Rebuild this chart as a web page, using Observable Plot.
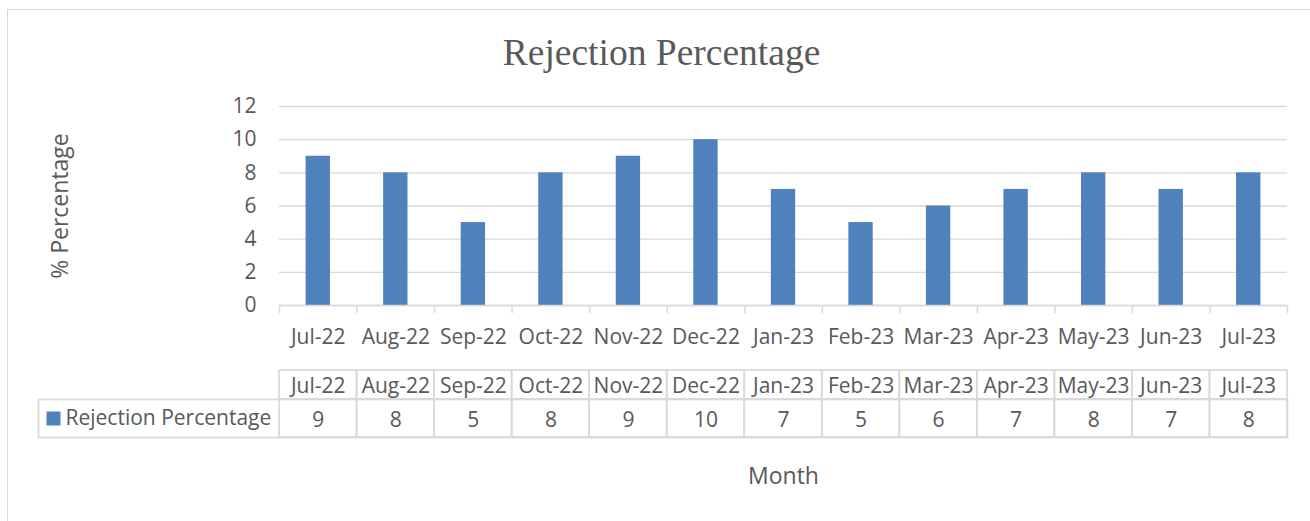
<!DOCTYPE html>
<html>
<head>
<meta charset="utf-8">
<script src="https://cdn.jsdelivr.net/npm/d3@7"></script>
<script src="https://cdn.jsdelivr.net/npm/@observablehq/plot@0.6"></script>
<style>
  html, body { margin: 0; padding: 0; background: #fff; overflow: hidden; }
  #wrap { position: relative; width: 1310px; height: 521px; overflow: hidden; background: #fff; }
  #border { position: absolute; left: 7px; top: 9px; width: 1400px; height: 600px; border: 1.5px solid #d9d9d9; box-sizing: border-box; }
  #title { position: absolute; left: 0; top: 33.6px; width: 1323px; text-align: center;
           font-family: "Liberation Serif", serif; font-size: 37.5px; line-height: 37.5px; color: #595959; white-space: nowrap; }
  #wrap svg { position: absolute; left: 0; top: 0; }
</style>
</head>
<body>
<div id="wrap"><div id="border"></div><div id="title"></div></div>
<script>
// ---- data ----
const months = ["Jul-22", "Aug-22", "Sep-22", "Oct-22", "Nov-22", "Dec-22", "Jan-23", "Feb-23", "Mar-23", "Apr-23", "May-23", "Jun-23", "Jul-23"];
const values = [9, 8, 5, 8, 9, 10, 7, 5, 6, 7, 8, 7, 8];
const yTicks = [0, 2, 4, 6, 8, 10, 12];
const seriesName = "Rejection Percentage";
const chartTitle = "Rejection Percentage";
const xTitle = "Month";
const yTitle = "% Percentage";

const data = months.map((m, i) => ({month: m, value: values[i]}));

// ---- layout / style ----
const W = 1310, H = 521;
const frameL = 279, frameR = 1287;
const bw = (frameR - frameL) / months.length;
const barColor = "#4f81bd";
const lineColor = "#d9d9d9";
const textColor = "#595959";
const baseStyle = {fontFamily: '"Open Sans", sans-serif', fontSize: "21px", color: textColor, background: "transparent", overflow: "visible"};

document.getElementById("title").textContent = chartTitle;
const wrap = document.getElementById("wrap");

// main chart
const chart = Plot.plot({
  width: W, height: H,
  marginLeft: frameL, marginRight: W - frameR, marginTop: 106, marginBottom: 216,
  style: baseStyle,
  x: {type: "band", domain: months, padding: 0, round: false},
  y: {domain: [0, 12]},
  marks: [
    Plot.gridY(yTicks, {stroke: lineColor, strokeOpacity: 1, strokeWidth: 1.3}),
    Plot.barY(data, {x: "month", y: "value", fill: barColor, insetLeft: 26.6, insetRight: 26.6}),
    Plot.ruleY([0], {stroke: lineColor, strokeWidth: 1.5}),
    Plot.ruleX(months, {x: d => d, y1: 0, y2: 0, dx: -bw / 2, insetBottom: -8, stroke: lineColor, strokeWidth: 1.5}),
    Plot.ruleX(months.slice(-1), {x: d => d, y1: 0, y2: 0, dx: bw / 2, insetBottom: -8, stroke: lineColor, strokeWidth: 1.5}),
    Plot.axisY(yTicks, {tickSize: 0, tickPadding: 23, label: null}),
    Plot.axisX({tickSize: 0, tickPadding: 24, label: null}),
    Plot.text([yTitle], {frameAnchor: "left", dx: -219, rotate: -90, textAnchor: "middle", lineAnchor: "middle", text: d => d, fontSize: 23}),
    Plot.text([xTitle], {frameAnchor: "bottom", dy: 178.3, lineAnchor: "bottom", text: d => d, fontSize: 23})
  ]
});
wrap.appendChild(chart);

// data table: header row
const header = Plot.plot({
  width: W, height: H,
  marginLeft: frameL, marginRight: W - frameR, marginTop: 370, marginBottom: H - 399,
  style: baseStyle,
  x: {type: "band", domain: months, padding: 0, round: false, axis: null},
  marks: [
    Plot.cell(months, {x: d => d, fill: "none", stroke: lineColor, strokeWidth: 1.7}),
    Plot.text(months, {x: d => d, text: d => d, dy: 1})
  ]
});
wrap.appendChild(header);

// data table: values row with legend key
const valuesRow = Plot.plot({
  width: W, height: H,
  marginLeft: 38, marginRight: W - frameR, marginTop: 399, marginBottom: H - 437,
  style: baseStyle,
  x: {type: "band", domain: months, padding: 0, round: false, range: [frameL, frameR], axis: null},
  marks: [
    Plot.frame({stroke: lineColor, strokeWidth: 1.7}),
    Plot.cell(data, {x: "month", fill: "none", stroke: lineColor, strokeWidth: 1.7}),
    Plot.text(data, {x: "month", text: d => String(d.value), dy: 2}),
    Plot.dot([seriesName], {frameAnchor: "left", dx: 15, symbol: "square", r: 7.9, fill: barColor, stroke: "none"}),
    Plot.text([seriesName], {frameAnchor: "left", dx: 27, textAnchor: "start", text: d => d, dy: 0})
  ]
});
wrap.appendChild(valuesRow);
</script>
</body>
</html>
